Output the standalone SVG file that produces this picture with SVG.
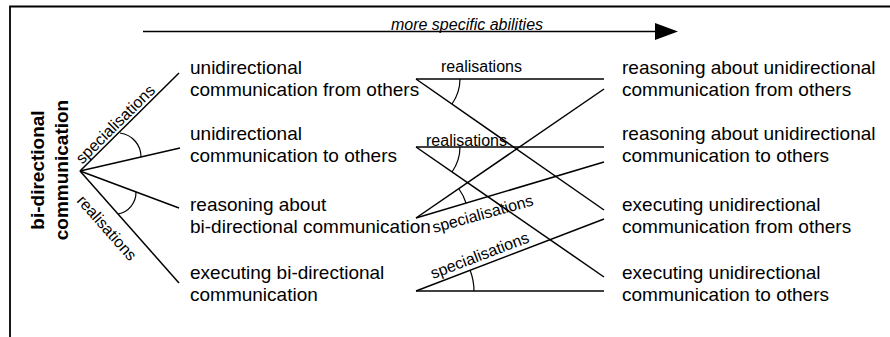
<svg xmlns="http://www.w3.org/2000/svg" width="890" height="337" viewBox="0 0 890 337">
<style>
.ln{stroke:#000;stroke-width:1.5;fill:none}
.arc{stroke:#000;stroke-width:1.2;fill:none}
.node{font-family:"Liberation Sans",Arial,sans-serif;font-size:19px;fill:#000}
.lbl{font-family:"Liberation Sans",Arial,sans-serif;font-size:16px;fill:#000}
.title{font-family:"Liberation Sans",Arial,sans-serif;font-size:19px;font-weight:bold;fill:#000}
</style>
<rect width="890" height="337" fill="#fff"/>
<path d="M10,337 V6.5 H890" stroke="#000" stroke-width="1.8" fill="none"/>
<g id="title">
<text class="title" transform="translate(44,170) rotate(-90)" text-anchor="middle">bi-directional</text>
<text class="title" transform="translate(68,170) rotate(-90)" text-anchor="middle">communication</text>
</g>
<g id="n-uni-from"><text class="node" x="190" y="74">unidirectional</text><text class="node" x="190" y="96">communication from others</text></g>
<g id="n-uni-to"><text class="node" x="190" y="140">unidirectional</text><text class="node" x="190" y="162">communication to others</text></g>
<g id="n-reason-bi"><text class="node" x="190" y="211">reasoning about</text><text class="node" x="190" y="233">bi-directional communication</text></g>
<g id="n-exec-bi"><text class="node" x="190" y="279">executing bi-directional</text><text class="node" x="190" y="301">communication</text></g>
<g id="n-reason-from"><text class="node" x="622" y="74">reasoning about unidirectional</text><text class="node" x="622" y="96">communication from others</text></g>
<g id="n-reason-to"><text class="node" x="622" y="140">reasoning about unidirectional</text><text class="node" x="622" y="162">communication to others</text></g>
<g id="n-exec-from"><text class="node" x="622" y="211">executing unidirectional</text><text class="node" x="622" y="233">communication from others</text></g>
<g id="n-exec-to"><text class="node" x="622" y="279">executing unidirectional</text><text class="node" x="622" y="301">communication to others</text></g>
<g id="connectors">
<line class="ln" x1="143" y1="31.5" x2="657" y2="31.5"/>
<polygon points="655,23 678,31.5 655,40" fill="#000"/>
<text class="lbl" x="467" y="30" text-anchor="middle" font-style="italic">more specific abilities</text>
<line class="ln" x1="80" y1="171" x2="179" y2="73"/>
<line class="ln" x1="80" y1="171" x2="180" y2="148"/>
<line class="ln" x1="80" y1="171" x2="179" y2="208"/>
<line class="ln" x1="80" y1="171" x2="179" y2="283"/>
<path class="arc" d="M120,133 A24,24 0 0 1 141,157"/>
<path class="arc" d="M136,192 A22,22 0 0 1 118,214"/>
<text class="lbl" transform="translate(80,171) rotate(-44.7)" x="6" y="-3">specialisations</text>
<text class="lbl" transform="translate(80,171) rotate(48.5)" x="20" y="23">realisations</text>
<line class="ln" x1="416" y1="79" x2="604" y2="79"/>
<line class="ln" x1="416" y1="79" x2="604" y2="210"/>
<line class="ln" x1="416" y1="147" x2="604" y2="147"/>
<line class="ln" x1="416" y1="147" x2="604" y2="277"/>
<line class="ln" x1="416" y1="218" x2="604" y2="89"/>
<line class="ln" x1="416" y1="218" x2="604" y2="162"/>
<line class="ln" x1="416" y1="291" x2="604" y2="219"/>
<line class="ln" x1="416" y1="291" x2="604" y2="291"/>
<path class="arc" d="M460,79 A44,44 0 0 1 452,104"/>
<path class="arc" d="M460,147 A44,44 0 0 1 452,172"/>
<path class="arc" d="M459,189 A52,52 0 0 1 466,203"/>
<path class="arc" d="M470,270 A58,58 0 0 1 474,291"/>
<text class="lbl" x="441" y="72">realisations</text>
<text class="lbl" x="426" y="146">realisations</text>
<text class="lbl" transform="translate(434,233) rotate(-15.5)">specialisations</text>
<text class="lbl" transform="translate(433,279) rotate(-20.9)">specialisations</text>
</g>
</svg>
